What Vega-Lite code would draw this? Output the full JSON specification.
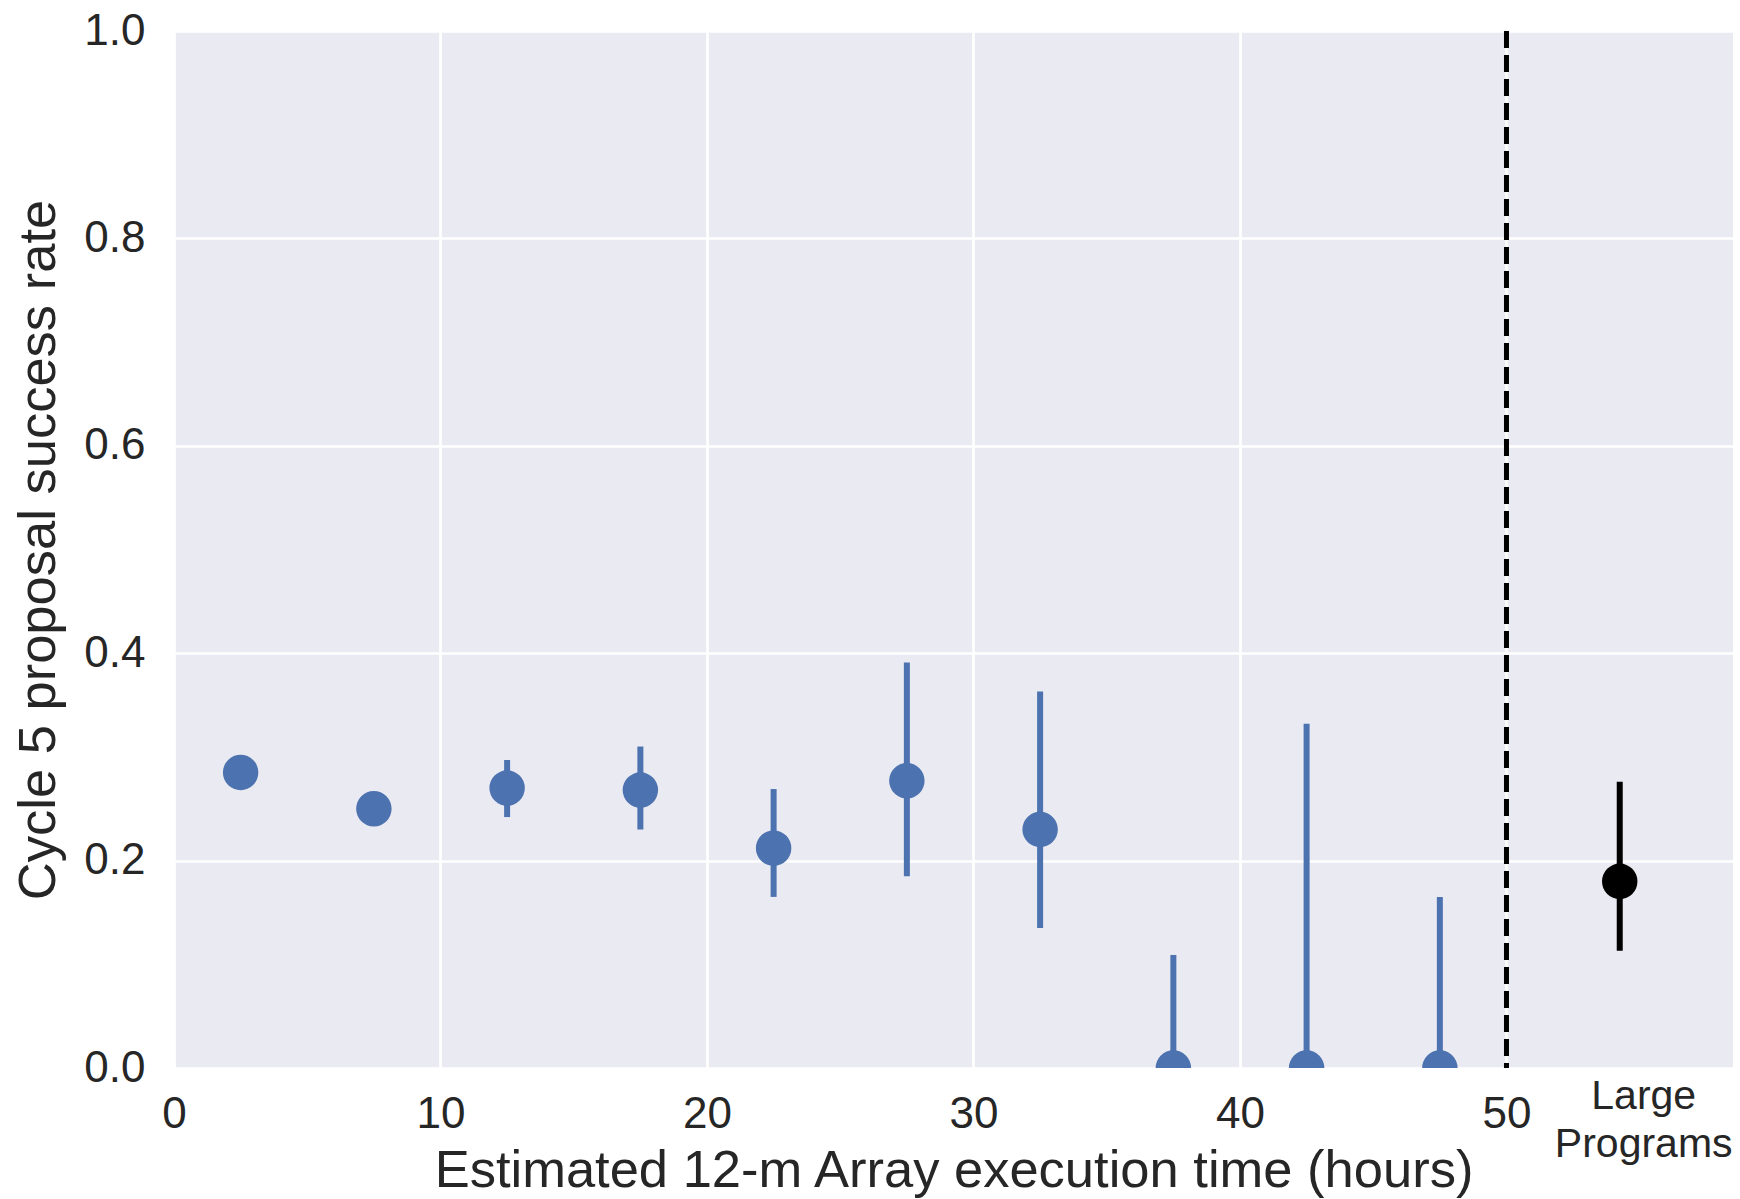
{
  "$schema": "https://vega.github.io/schema/vega-lite/v6.json",
  "autosize": {"type": "none"},
  "width": 1559,
  "height": 1037,
  "padding": {"left": 174, "top": 31, "right": 7, "bottom": 131},
  "background": "white",
  "config": {
    "view": {"fill": "#EAEAF2", "stroke": null},
    "font": "Liberation Sans",
    "axis": {
      "domain": false,
      "ticks": false,
      "tickSize": 0,
      "grid": true,
      "gridColor": "white",
      "gridWidth": 2.7,
      "labelFont": "Liberation Sans",
      "labelFontSize": 44,
      "labelColor": "#262626",
      "titleFont": "Liberation Sans",
      "titleFontSize": 52.5,
      "titleFontWeight": "normal",
      "titleColor": "#262626"
    }
  },
  "datasets": {
    "bins": [
      {"hours": 2.5, "rate": 0.285, "lo": 0.274, "hi": 0.296, "group": "Cycle 5"},
      {"hours": 7.5, "rate": 0.25, "lo": 0.240, "hi": 0.260, "group": "Cycle 5"},
      {"hours": 12.5, "rate": 0.27, "lo": 0.242, "hi": 0.297, "group": "Cycle 5"},
      {"hours": 17.5, "rate": 0.268, "lo": 0.23, "hi": 0.31, "group": "Cycle 5"},
      {"hours": 22.5, "rate": 0.212, "lo": 0.165, "hi": 0.269, "group": "Cycle 5"},
      {"hours": 27.5, "rate": 0.277, "lo": 0.185, "hi": 0.391, "group": "Cycle 5"},
      {"hours": 32.5, "rate": 0.23, "lo": 0.135, "hi": 0.363, "group": "Cycle 5"},
      {"hours": 37.5, "rate": 0.0, "lo": 0.0, "hi": 0.109, "group": "Cycle 5"},
      {"hours": 42.5, "rate": 0.0, "lo": 0.0, "hi": 0.332, "group": "Cycle 5"},
      {"hours": 47.5, "rate": 0.0, "lo": 0.0, "hi": 0.165, "group": "Cycle 5"},
      {"hours": 54.25, "rate": 0.18, "lo": 0.113, "hi": 0.276, "group": "Large Programs"}
    ],
    "labels": [
      {"hours": 55.15, "label": ["Large", "Programs"]}
    ],
    "cutoff": [
      {"hours": 50}
    ]
  },
  "layer": [
    {
      "data": {"name": "bins"},
      "mark": {"type": "rule", "strokeWidth": 6, "clip": true},
      "encoding": {
        "x": {
          "field": "hours", "type": "quantitative",
          "scale": {"domain": [0, 58.5], "nice": false, "zero": false},
          "axis": {"values": [0, 10, 20, 30, 40, 50], "labelPadding": 24, "titlePadding": 9, "labelFlush": false},
          "title": "Estimated 12-m Array execution time (hours)"
        },
        "y": {
          "field": "lo", "type": "quantitative",
          "scale": {"domain": [0, 1], "nice": false},
          "axis": {"values": [0, 0.2, 0.4, 0.6, 0.8, 1.0], "format": ".1f", "labelPadding": 29, "titlePadding": 18, "labelFlush": false},
          "title": "Cycle 5 proposal success rate"
        },
        "y2": {"field": "hi"},
        "color": {
          "field": "group", "type": "nominal",
          "scale": {"domain": ["Cycle 5", "Large Programs"], "range": ["#4C72B0", "#000000"]},
          "legend": null
        }
      }
    },
    {
      "data": {"name": "bins"},
      "mark": {"type": "circle", "size": 1257, "opacity": 1, "clip": true},
      "encoding": {
        "x": {"field": "hours", "type": "quantitative"},
        "y": {"field": "rate", "type": "quantitative"},
        "color": {"field": "group", "type": "nominal", "legend": null}
      }
    },
    {
      "data": {"name": "cutoff"},
      "mark": {"type": "rule", "color": "black", "strokeWidth": 5, "strokeDash": [17, 7]},
      "encoding": {
        "x": {"field": "hours", "type": "quantitative"}
      }
    },
    {
      "data": {"name": "labels"},
      "mark": {"type": "text", "fontSize": 41, "lineHeight": 48, "align": "center", "baseline": "alphabetic", "color": "#262626", "font": "Liberation Sans"},
      "encoding": {
        "x": {"field": "hours", "type": "quantitative"},
        "y": {"datum": -0.0398},
        "text": {"field": "label"}
      }
    }
  ]
}
